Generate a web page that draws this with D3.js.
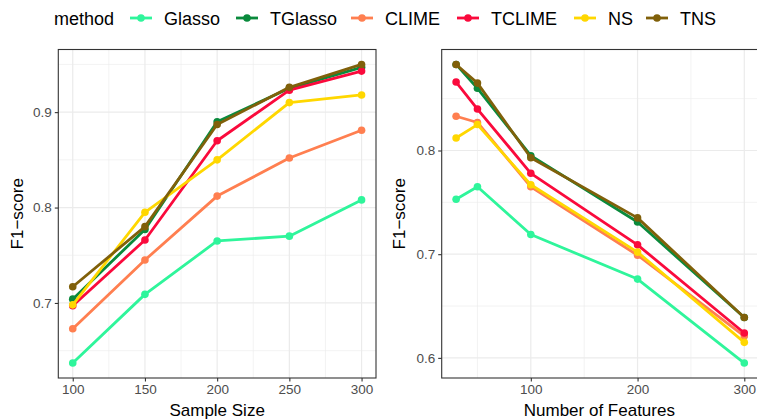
<!DOCTYPE html>
<html>
<head>
<meta charset="utf-8">
<script src="https://cdn.jsdelivr.net/npm/d3@7"></script>
<style>
  body { margin: 0; background: #fff; }
  text { font-family: "Liberation Sans", Arial, sans-serif; }
</style>
</head>
<body>
<svg id="main_svg" width="757" height="419"></svg>
<script>
// methods, in draw order
const methods = ['Glasso', 'TGlasso', 'CLIME', 'TCLIME', 'NS', 'TNS'];
const colors = ['#2ff59b', '#0a8a3c', '#ff7f50', '#fa0a3c', '#ffd700', '#80600a'];

// left panel: sample size
const sampleSizes = [100, 150, 200, 250, 300];
const f1BySample = {
  Glasso:  [0.637, 0.709, 0.765, 0.770, 0.808],
  TGlasso: [0.704, 0.777, 0.890, 0.925, 0.947],
  CLIME:   [0.673, 0.745, 0.812, 0.852, 0.881],
  TCLIME:  [0.697, 0.766, 0.870, 0.923, 0.943],
  NS:      [0.698, 0.795, 0.850, 0.910, 0.918],
  TNS:     [0.717, 0.780, 0.887, 0.926, 0.950]
};

// right panel: number of features
const featureCounts = [30, 50, 100, 200, 300];
const f1ByFeatures = {
  Glasso:  [0.753, 0.765, 0.719, 0.676, 0.595],
  TGlasso: [0.883, 0.860, 0.795, 0.731, 0.639],
  CLIME:   [0.833, 0.827, 0.765, 0.699, 0.621],
  TCLIME:  [0.866, 0.840, 0.778, 0.709, 0.624],
  NS:      [0.812, 0.825, 0.767, 0.702, 0.615],
  TNS:     [0.883, 0.865, 0.793, 0.735, 0.639]
};

const leftXTicks = [100, 150, 200, 250, 300];
const leftXMinor = [125, 175, 225, 275];
const leftYTicks = [0.7, 0.8, 0.9];
const leftYMinor = [0.65, 0.75, 0.85, 0.95];
const rightXTicks = [100, 200, 300];
const rightXMinor = [50, 150, 250];
const rightYTicks = [0.6, 0.7, 0.8];
const rightYMinor = [0.65, 0.75, 0.85];

const svg = d3.select('#main_svg');
const color = d3.scaleOrdinal().domain(methods).range(colors);

const panelTop = 49.5, panelBottom = 378;

function padded(vals) {
  let ext = d3.extent(vals);
  let pad = (ext[1] - ext[0]) * 0.05;
  return [ext[0] - pad, ext[1] + pad];
}

function panel(opts) {
  let x = d3.scaleLinear().domain(padded(opts.xs)).range([opts.left, opts.right]);
  let allY = [].concat(...methods.map(m => opts.data[m]));
  let y = d3.scaleLinear().domain(padded(allY)).range([panelBottom, panelTop]);

  let g = svg.append('g');
  let clipId = 'clip_' + opts.id;
  g.append('clipPath').attr('id', clipId)
    .append('rect')
    .attr('x', opts.left).attr('y', panelTop)
    .attr('width', opts.right - opts.left).attr('height', panelBottom - panelTop);

  // grid lines (minor first, then major)
  let grid = g.append('g').attr('clip-path', 'url(#' + clipId + ')');
  grid.selectAll('.xminor').data(opts.xMinor).enter().append('line')
    .attr('x1', d => x(d)).attr('x2', d => x(d))
    .attr('y1', panelTop).attr('y2', panelBottom)
    .attr('stroke', '#ebebeb').attr('stroke-width', 0.6);
  grid.selectAll('.yminor').data(opts.yMinor).enter().append('line')
    .attr('y1', d => y(d)).attr('y2', d => y(d))
    .attr('x1', opts.left).attr('x2', opts.right)
    .attr('stroke', '#ebebeb').attr('stroke-width', 0.6);
  grid.selectAll('.xmajor').data(opts.xTicks).enter().append('line')
    .attr('x1', d => x(d)).attr('x2', d => x(d))
    .attr('y1', panelTop).attr('y2', panelBottom)
    .attr('stroke', '#ebebeb').attr('stroke-width', 1.2);
  grid.selectAll('.ymajor').data(opts.yTicks).enter().append('line')
    .attr('y1', d => y(d)).attr('y2', d => y(d))
    .attr('x1', opts.left).attr('x2', opts.right)
    .attr('stroke', '#ebebeb').attr('stroke-width', 1.2);

  // series
  let line = d3.line().x((d, i) => x(opts.xs[i])).y(d => y(d));
  methods.forEach(function(m) {
    let s = g.append('g').attr('clip-path', 'url(#' + clipId + ')');
    s.append('path')
      .attr('d', line(opts.data[m]))
      .attr('fill', 'none')
      .attr('stroke', color(m))
      .attr('stroke-width', 2.8)
      .attr('stroke-linejoin', 'round');
    s.selectAll('circle').data(opts.data[m]).enter().append('circle')
      .attr('cx', (d, i) => x(opts.xs[i]))
      .attr('cy', d => y(d))
      .attr('r', 3.8)
      .attr('fill', color(m));
  });

  // panel border
  g.append('rect')
    .attr('x', opts.left).attr('y', panelTop)
    .attr('width', opts.right - opts.left).attr('height', panelBottom - panelTop)
    .attr('fill', 'none').attr('stroke', '#333333').attr('stroke-width', 1.1);

  // axes
  let xAxis = d3.axisBottom(x).tickValues(opts.xTicks).tickSize(3.5).tickPadding(3);
  let yAxis = d3.axisLeft(y).tickValues(opts.yTicks).tickSize(3.5).tickPadding(3)
    .tickFormat(d3.format('.1f'));
  let gx = g.append('g').attr('transform', 'translate(0,' + panelBottom + ')').call(xAxis);
  let gy = g.append('g').attr('transform', 'translate(' + opts.left + ',0)').call(yAxis);
  [gx, gy].forEach(function(a) {
    a.select('.domain').remove();
    a.selectAll('line').attr('stroke', '#333333').attr('stroke-width', 1.1);
    a.selectAll('text').attr('fill', '#4d4d4d').style('font-size', '13.5px');
  });

  // axis titles
  g.append('text')
    .text(opts.xTitle)
    .attr('x', (opts.left + Math.min(opts.right, 757)) / 2)
    .attr('y', 416)
    .attr('text-anchor', 'middle')
    .style('font-size', '17px');
  g.append('text')
    .text('F1\u2212score')
    .attr('transform', 'translate(' + opts.yTitleX + ',' + ((panelTop + panelBottom) / 2) + ') rotate(-90)')
    .attr('text-anchor', 'middle')
    .style('font-size', '17px');
}

panel({
  id: 'left', left: 58.3, right: 376, xs: sampleSizes, data: f1BySample,
  xTicks: leftXTicks, xMinor: leftXMinor, yTicks: leftYTicks, yMinor: leftYMinor,
  xTitle: 'Sample Size', yTitleX: 23
});

panel({
  id: 'right', left: 441.7, right: 758.7, xs: featureCounts, data: f1ByFeatures,
  xTicks: rightXTicks, xMinor: rightXMinor, yTicks: rightYTicks, yMinor: rightYMinor,
  xTitle: 'Number of Features', yTitleX: 405
});

// legend across the top
const legend = svg.append('g').attr('transform', 'translate(0,18)');
legend.append('text')
  .text('method')
  .attr('x', 54).attr('y', 6.5)
  .style('font-size', '18px');

const keyX = [130, 236, 351, 457, 574, 646];
methods.forEach(function(m, i) {
  let k = legend.append('g').attr('transform', 'translate(' + keyX[i] + ',0)');
  k.append('line')
    .attr('x1', 0).attr('x2', 22).attr('y1', 0).attr('y2', 0)
    .attr('stroke', color(m)).attr('stroke-width', 2.8);
  k.append('circle').attr('cx', 11).attr('cy', 0).attr('r', 3.8).attr('fill', color(m));
  k.append('text')
    .text(m)
    .attr('x', 34).attr('y', 6.5)
    .style('font-size', '18px');
});
</script>
</body>
</html>
